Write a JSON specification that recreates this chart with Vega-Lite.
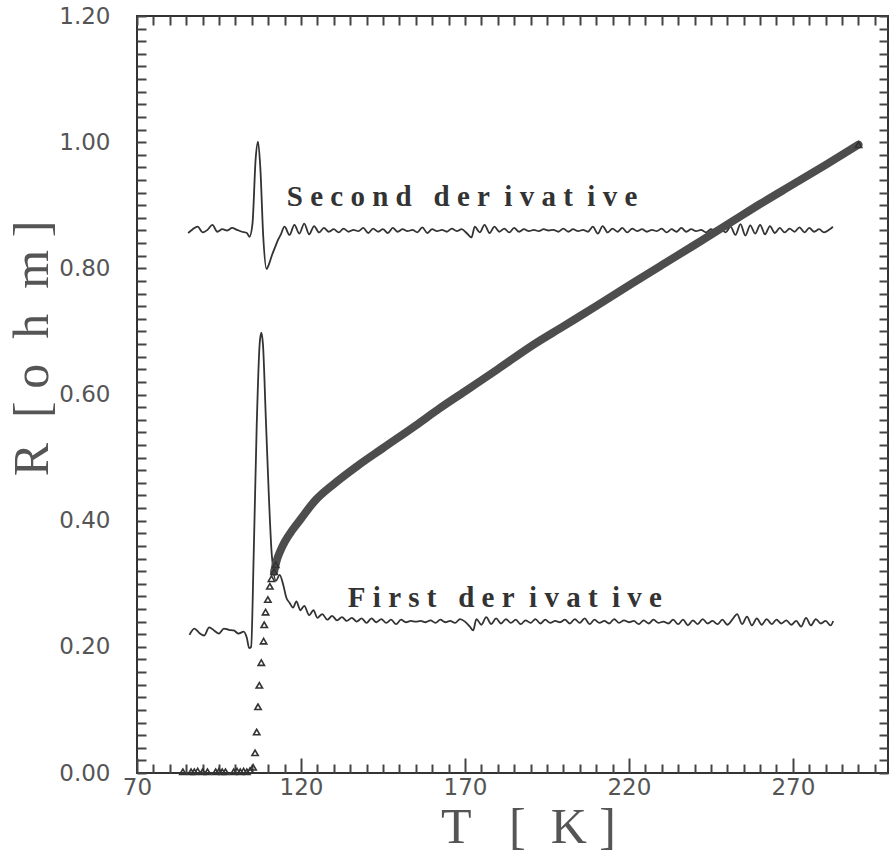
{
  "$schema": "https://vega.github.io/schema/vega-lite/v6.json",
  "width": 751,
  "height": 757,
  "autosize": "none",
  "padding": {"left": 137, "top": 16, "right": 3, "bottom": 82},
  "background": "white",
  "config": {
    "view": {"stroke": "#333", "strokeWidth": 2},
    "axis": {"domain": false, "grid": false, "tickColor": "#444", "tickWidth": 2, "labelFont": "DejaVu Sans", "labelColor": "#555", "labelFontSize": 23, "labelOverlap": false, "labelFlush": false, "titleFont": "Liberation Serif", "titleFontWeight": "normal", "titleColor": "#555", "titleFontSize": 50}
  },
  "datasets": {
    "first": [
      {"T":86,"v":0.219},{"T":87.5,"v":0.229},{"T":89,"v":0.222},{"T":90.5,"v":0.218},{"T":92,"v":0.231},{"T":93.5,"v":0.226},{"T":95,"v":0.221},{"T":96.5,"v":0.229},{"T":98,"v":0.227},{"T":99.5,"v":0.226},{"T":101,"v":0.221},{"T":102.5,"v":0.224},{"T":103.5,"v":0.214},{"T":104.2,"v":0.198},{"T":104.8,"v":0.2},{"T":105.6,"v":0.35},{"T":106.5,"v":0.55},{"T":107.4,"v":0.68},{"T":107.9,"v":0.698},{"T":108.4,"v":0.68},{"T":109.3,"v":0.56},{"T":110.2,"v":0.44},{"T":111.1,"v":0.346},{"T":112.4,"v":0.305},{"T":113.5,"v":0.314},{"T":114.5,"v":0.3},{"T":115.6,"v":0.277},{"T":116.5,"v":0.27},{"T":117.6,"v":0.262},{"T":118.6,"v":0.272},{"T":119.8,"v":0.258},{"T":121,"v":0.265},{"T":122.5,"v":0.25},{"T":123.8,"v":0.258},{"T":125,"v":0.246},{"T":126.5,"v":0.252},{"T":128,"v":0.243},{"T":129.5,"v":0.249},{"T":131,"v":0.242},{"T":132.5,"v":0.247},{"T":134,"v":0.241},{"T":135.5,"v":0.246},{"T":137,"v":0.24},{"T":138.5,"v":0.245},{"T":140,"v":0.238},{"T":141.5,"v":0.245},{"T":143,"v":0.239},{"T":144.5,"v":0.244},{"T":146,"v":0.238},{"T":147.5,"v":0.243},{"T":149,"v":0.236},{"T":150.5,"v":0.243},{"T":152,"v":0.239},{"T":153.5,"v":0.241},{"T":155,"v":0.24},{"T":156.5,"v":0.241},{"T":158,"v":0.239},{"T":159.5,"v":0.242},{"T":161,"v":0.238},{"T":162.5,"v":0.243},{"T":164,"v":0.239},{"T":165.5,"v":0.241},{"T":167,"v":0.238},{"T":168.5,"v":0.244},{"T":170,"v":0.24},{"T":171.5,"v":0.232},{"T":172.5,"v":0.226},{"T":173.5,"v":0.244},{"T":175,"v":0.235},{"T":176.5,"v":0.247},{"T":178,"v":0.236},{"T":179.5,"v":0.245},{"T":181,"v":0.237},{"T":182.5,"v":0.244},{"T":184,"v":0.238},{"T":185.5,"v":0.243},{"T":187,"v":0.236},{"T":188.5,"v":0.242},{"T":190,"v":0.238},{"T":191.5,"v":0.244},{"T":193,"v":0.237},{"T":194.5,"v":0.243},{"T":196,"v":0.238},{"T":197.5,"v":0.241},{"T":199,"v":0.239},{"T":200.5,"v":0.243},{"T":202,"v":0.237},{"T":203.5,"v":0.244},{"T":205,"v":0.238},{"T":206.5,"v":0.245},{"T":208,"v":0.236},{"T":209.5,"v":0.243},{"T":211,"v":0.238},{"T":212.5,"v":0.241},{"T":214,"v":0.237},{"T":215.5,"v":0.244},{"T":217,"v":0.238},{"T":218.5,"v":0.242},{"T":220,"v":0.239},{"T":221.5,"v":0.241},{"T":223,"v":0.236},{"T":224.5,"v":0.242},{"T":226,"v":0.237},{"T":227.5,"v":0.243},{"T":229,"v":0.238},{"T":230.5,"v":0.24},{"T":232,"v":0.237},{"T":233.5,"v":0.243},{"T":235,"v":0.236},{"T":236.5,"v":0.243},{"T":238,"v":0.234},{"T":239.5,"v":0.242},{"T":241,"v":0.236},{"T":242.5,"v":0.244},{"T":244,"v":0.237},{"T":245.5,"v":0.241},{"T":247,"v":0.236},{"T":248.5,"v":0.243},{"T":250,"v":0.235},{"T":251.5,"v":0.243},{"T":253,"v":0.252},{"T":254.5,"v":0.236},{"T":256,"v":0.248},{"T":257.5,"v":0.234},{"T":259,"v":0.245},{"T":260.5,"v":0.235},{"T":262,"v":0.244},{"T":263.5,"v":0.236},{"T":265,"v":0.243},{"T":266.5,"v":0.237},{"T":268,"v":0.242},{"T":269.5,"v":0.235},{"T":271,"v":0.241},{"T":272.5,"v":0.232},{"T":274,"v":0.246},{"T":275.5,"v":0.234},{"T":277,"v":0.244},{"T":278.5,"v":0.237},{"T":280,"v":0.241},{"T":281.5,"v":0.234},{"T":282.3,"v":0.241}
    ],
    "second": [
      {"T":85.6,"v":0.856},{"T":87,"v":0.862},{"T":88.5,"v":0.866},{"T":90,"v":0.857},{"T":91.5,"v":0.861},{"T":93,"v":0.869},{"T":94.5,"v":0.858},{"T":96,"v":0.862},{"T":97.5,"v":0.86},{"T":99,"v":0.864},{"T":100.5,"v":0.861},{"T":102,"v":0.858},{"T":103.5,"v":0.856},{"T":104.3,"v":0.85},{"T":105.2,"v":0.87},{"T":106.2,"v":0.975},{"T":106.9,"v":1.001},{"T":107.6,"v":0.96},{"T":108.5,"v":0.85},{"T":109.5,"v":0.799},{"T":110.2,"v":0.806},{"T":111.1,"v":0.82},{"T":112,"v":0.832},{"T":113,"v":0.845},{"T":113.8,"v":0.853},{"T":115,"v":0.866},{"T":116.5,"v":0.853},{"T":118,"v":0.869},{"T":119.5,"v":0.855},{"T":121,"v":0.871},{"T":122.5,"v":0.854},{"T":124,"v":0.867},{"T":125.5,"v":0.857},{"T":127,"v":0.864},{"T":128.5,"v":0.858},{"T":130,"v":0.862},{"T":131.5,"v":0.857},{"T":133,"v":0.863},{"T":134.5,"v":0.858},{"T":136,"v":0.861},{"T":137.5,"v":0.859},{"T":139,"v":0.864},{"T":140.5,"v":0.856},{"T":142,"v":0.863},{"T":143.5,"v":0.858},{"T":145,"v":0.862},{"T":146.5,"v":0.856},{"T":148,"v":0.864},{"T":149.5,"v":0.858},{"T":151,"v":0.862},{"T":152.5,"v":0.859},{"T":154,"v":0.861},{"T":155.5,"v":0.857},{"T":157,"v":0.865},{"T":158.5,"v":0.856},{"T":160,"v":0.862},{"T":161.5,"v":0.859},{"T":163,"v":0.861},{"T":164.5,"v":0.858},{"T":166,"v":0.863},{"T":167.5,"v":0.859},{"T":169,"v":0.862},{"T":170.5,"v":0.856},{"T":172,"v":0.849},{"T":173,"v":0.866},{"T":174.5,"v":0.857},{"T":176,"v":0.869},{"T":177.5,"v":0.856},{"T":179,"v":0.866},{"T":180.5,"v":0.858},{"T":182,"v":0.863},{"T":183.5,"v":0.857},{"T":185,"v":0.864},{"T":186.5,"v":0.858},{"T":188,"v":0.862},{"T":189.5,"v":0.859},{"T":191,"v":0.861},{"T":192.5,"v":0.859},{"T":194,"v":0.862},{"T":195.5,"v":0.86},{"T":197,"v":0.861},{"T":198.5,"v":0.858},{"T":200,"v":0.863},{"T":201.5,"v":0.858},{"T":203,"v":0.862},{"T":204.5,"v":0.859},{"T":206,"v":0.861},{"T":207.5,"v":0.858},{"T":209,"v":0.866},{"T":210.5,"v":0.855},{"T":212,"v":0.867},{"T":213.5,"v":0.857},{"T":215,"v":0.863},{"T":216.5,"v":0.858},{"T":218,"v":0.864},{"T":219.5,"v":0.857},{"T":221,"v":0.863},{"T":222.5,"v":0.859},{"T":224,"v":0.862},{"T":225.5,"v":0.858},{"T":227,"v":0.861},{"T":228.5,"v":0.859},{"T":230,"v":0.863},{"T":231.5,"v":0.857},{"T":233,"v":0.862},{"T":234.5,"v":0.858},{"T":236,"v":0.864},{"T":237.5,"v":0.858},{"T":239,"v":0.862},{"T":240.5,"v":0.859},{"T":242,"v":0.861},{"T":243.5,"v":0.857},{"T":245,"v":0.862},{"T":246.5,"v":0.858},{"T":248,"v":0.863},{"T":249.5,"v":0.857},{"T":251,"v":0.866},{"T":252.5,"v":0.853},{"T":254,"v":0.87},{"T":255.5,"v":0.852},{"T":257,"v":0.868},{"T":258.5,"v":0.855},{"T":260,"v":0.869},{"T":261.5,"v":0.854},{"T":263,"v":0.867},{"T":264.5,"v":0.856},{"T":266,"v":0.864},{"T":267.5,"v":0.857},{"T":269,"v":0.863},{"T":270.5,"v":0.858},{"T":272,"v":0.865},{"T":273.5,"v":0.857},{"T":275,"v":0.864},{"T":276.5,"v":0.858},{"T":278,"v":0.862},{"T":279.5,"v":0.857},{"T":281,"v":0.861},{"T":282.2,"v":0.866}
    ],
    "resistance": [
      {"T":111.8,"R":0.319},{"T":112.5,"R":0.335},{"T":113.7,"R":0.352},{"T":115,"R":0.366},{"T":117.5,"R":0.386},{"T":120,"R":0.403},{"T":124,"R":0.43},{"T":130,"R":0.458},{"T":137,"R":0.486},{"T":145,"R":0.515},{"T":155,"R":0.551},{"T":162,"R":0.577},{"T":170,"R":0.605},{"T":180,"R":0.64},{"T":190,"R":0.676},{"T":200,"R":0.708},{"T":210,"R":0.74},{"T":221,"R":0.776},{"T":230,"R":0.805},{"T":240,"R":0.837},{"T":252,"R":0.876},{"T":260,"R":0.902},{"T":270,"R":0.933},{"T":280,"R":0.964},{"T":290,"R":0.996}
    ],
    "triangles": [
      {"T":84,"R":0.002},{"T":86.5,"R":0.002},{"T":87.5,"R":0.002},{"T":88.5,"R":0.003},{"T":90,"R":0.002},{"T":91.5,"R":0.002},{"T":94,"R":0.002},{"T":95,"R":0.003},{"T":96,"R":0.002},{"T":97,"R":0.002},{"T":99.5,"R":0.002},{"T":100.5,"R":0.003},{"T":101.5,"R":0.002},{"T":102.5,"R":0.003},{"T":103.5,"R":0.002},{"T":104.5,"R":0.004},{"T":105.4,"R":0.009},{"T":106.0,"R":0.032},{"T":106.5,"R":0.065},{"T":106.9,"R":0.105},{"T":107.3,"R":0.139},{"T":107.9,"R":0.175},{"T":108.6,"R":0.209},{"T":108.8,"R":0.235},{"T":109.2,"R":0.255},{"T":109.9,"R":0.275},{"T":110.5,"R":0.296},{"T":111.0,"R":0.308},{"T":111.8,"R":0.319},{"T":112.3,"R":0.33},{"T":290,"R":0.996}
    ],
    "labels": [
      {"T":115.7,"R":0.899,"text":"S\u00a0e\u00a0c\u00a0o\u00a0n\u00a0d\u00a0\u00a0\u00a0d\u00a0e\u00a0r\u00a0\u00a0i\u00a0v\u00a0a\u00a0t\u00a0\u00a0i\u00a0v\u00a0e"},
      {"T":134.3,"R":0.263,"text":"F\u00a0i\u00a0r\u00a0s\u00a0t\u00a0\u00a0\u00a0d\u00a0e\u00a0r\u00a0\u00a0i\u00a0v\u00a0a\u00a0t\u00a0\u00a0i\u00a0v\u00a0e"}
    ]
  },
  "layer": [
    {
      "data": {"name": "first"},
      "mark": {"type": "line", "color": "#333", "strokeWidth": 1.8, "interpolate": "monotone"},
      "encoding": {
        "x": {"field": "T", "type": "quantitative", "scale": {"domain": [70, 299], "nice": false, "zero": false},
          "axis": {"orient": "bottom", "values": [70,75,80,85,90,95,100,105,110,115,120,125,130,135,140,145,150,155,160,165,170,175,180,185,190,195,200,205,210,215,220,225,230,235,240,245,250,255,260,265,270,275,280,285,290,295],
            "labelExpr": "(datum.value - 70) % 50 == 0 ? datum.label : ''",
            "tickSize": {"condition": {"test": "(datum.value - 70) % 50 == 0", "value": -15}, "value": -9},
            "labelPadding": 18,
            "title": "T\u00a0\u00a0\u00a0[\u00a0\u00a0K\u00a0]", "titleX": 391, "titleY": 69, "titleBaseline": "alphabetic", "titleAlign": "center"}},
        "y": {"field": "v", "type": "quantitative", "scale": {"domain": [0, 1.2], "nice": false, "zero": false},
          "axis": {"orient": "left", "values": [0,0.02,0.04,0.06,0.08,0.1,0.12,0.14,0.16,0.18,0.2,0.22,0.24,0.26,0.28,0.3,0.32,0.34,0.36,0.38,0.4,0.42,0.44,0.46,0.48,0.5,0.52,0.54,0.56,0.58,0.6,0.62,0.64,0.66,0.68,0.7,0.72,0.74,0.76,0.78,0.8,0.82,0.84,0.86,0.88,0.9,0.92,0.94,0.96,0.98,1,1.02,1.04,1.06,1.08,1.1,1.12,1.14,1.16,1.18,1.2],
            "labelExpr": "round(datum.value*100) % 20 == 0 ? format(datum.value, '.2f') : ''",
            "tickSize": -9, "labelPadding": 36,
            "title": "R\u00a0\u00a0[\u00a0o\u00a0\u00a0h\u00a0\u00a0m\u00a0]", "titleAngle": -90, "titleX": -90, "titleY": 332, "titleBaseline": "alphabetic", "titleAlign": "center"}}
      }
    },
    {
      "data": {"name": "second"},
      "mark": {"type": "line", "color": "#333", "strokeWidth": 1.8, "interpolate": "monotone"},
      "encoding": {
        "x": {"field": "T", "type": "quantitative",
          "axis": {"orient": "top", "values": [70,75,80,85,90,95,100,105,110,115,120,125,130,135,140,145,150,155,160,165,170,175,180,185,190,195,200,205,210,215,220,225,230,235,240,245,250,255,260,265,270,275,280,285,290,295], "labels": false, "tickSize": -9, "title": null}},
        "y": {"field": "v", "type": "quantitative",
          "axis": {"orient": "right", "values": [0,0.02,0.04,0.06,0.08,0.1,0.12,0.14,0.16,0.18,0.2,0.22,0.24,0.26,0.28,0.3,0.32,0.34,0.36,0.38,0.4,0.42,0.44,0.46,0.48,0.5,0.52,0.54,0.56,0.58,0.6,0.62,0.64,0.66,0.68,0.7,0.72,0.74,0.76,0.78,0.8,0.82,0.84,0.86,0.88,0.9,0.92,0.94,0.96,0.98,1,1.02,1.04,1.06,1.08,1.1,1.12,1.14,1.16,1.18,1.2], "labels": false, "tickSize": -9, "title": null}}
      }
    },
    {
      "data": {"name": "resistance"},
      "mark": {"type": "line", "color": "#4d4d4d", "strokeWidth": 8, "strokeCap": "round", "interpolate": "monotone"},
      "encoding": {
        "x": {"field": "T", "type": "quantitative", "axis": null},
        "y": {"field": "R", "type": "quantitative", "axis": null}
      }
    },
    {
      "data": {"name": "triangles"},
      "mark": {"type": "point", "shape": "triangle-up", "filled": false, "color": "#333", "size": 40, "strokeWidth": 1.6, "opacity": 1},
      "encoding": {
        "x": {"field": "T", "type": "quantitative", "axis": null},
        "y": {"field": "R", "type": "quantitative", "axis": null}
      }
    },
    {
      "data": {"name": "labels"},
      "mark": {"type": "text", "align": "left", "baseline": "alphabetic", "font": "Liberation Serif", "fontWeight": "bold", "fontSize": 29, "color": "#333"},
      "encoding": {
        "x": {"field": "T", "type": "quantitative", "axis": null},
        "y": {"field": "R", "type": "quantitative", "axis": null},
        "text": {"field": "text"}
      }
    }
  ]
}
